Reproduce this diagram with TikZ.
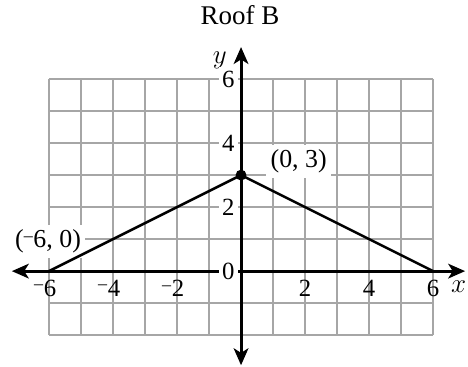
\documentclass[tikz,border=0pt]{standalone}
\usepackage{fontspec}
\setmainfont{Liberation Serif}
\usetikzlibrary{arrows.meta}
\newcommand{\shortminus}{\raisebox{0.55ex}{\fontsize{8}{8}\selectfont\textendash}\kern0.3pt}

\begin{document}
\begin{tikzpicture}[
    x=0.5cm, y=0.5cm,
    gridline/.style={gray!70, line width=0.6pt},
    axis/.style={black, line width=1.3pt, {Stealth[length=7.5pt, width=6.5pt, inset=2pt]}-{Stealth[length=7.5pt, width=6.5pt, inset=2pt]}},
    roof/.style={black, line width=1.1pt},
    tick/.style={font=\fontsize{11}{13}\selectfont, inner sep=1pt},
    ticky/.style={tick, fill=white, inner sep=1.5pt},
    pointlabel/.style={font=\fontsize{11.5}{13}\selectfont, fill=white, inner sep=2pt}
]

% Frame
\useasboundingbox (-7.53,-2.97) rectangle (7.09,8.47);

% Title
\node[font=\fontsize{12}{14}\selectfont] (title) at (-0.03,8.0) {Roof B};

% Grid
\draw[gridline, step=1] (-6,-2) grid (6,6);

% Point labels (under the roof line)
\node[pointlabel] (lp) at (1.8,3.42) {(0, 3)};
\node[pointlabel] (la) at (-6.03,0.93) {(\shortminus6, 0)};

% Axes
\coordinate (xl) at (-7.16,0);
\coordinate (xr) at (7.0,0);
\coordinate (yb) at (0,-2.94);
\coordinate (yt) at (0,7.0);
\draw[axis] (xl) -- (xr);
\draw[axis] (yb) -- (yt);
\node[font=\fontsize{12}{14}\selectfont] (xlab) at (6.8,-0.5) {$x$};
\node[font=\fontsize{12}{14}\selectfont] (ylab) at (-0.66,6.6) {$y$};

% Tick labels
\foreach \v in {2,4,6} {
    \node[tick] (xp\v) at (\v,-0.53) {\v};
    \node[tick] (xn\v) at (-\v-0.12,-0.53) {\shortminus\v};
}
\foreach \v in {0,2,4,6}
    \node[ticky] (y\v) at (-0.4,\v) {\v};

% Roof line
\coordinate (A) at (-6,0);
\coordinate (P) at (0,3);
\coordinate (C) at (6,0);
\draw[roof] (A) -- (P) -- (C);
\fill (P) circle (0.17);

\end{tikzpicture}
\end{document}
